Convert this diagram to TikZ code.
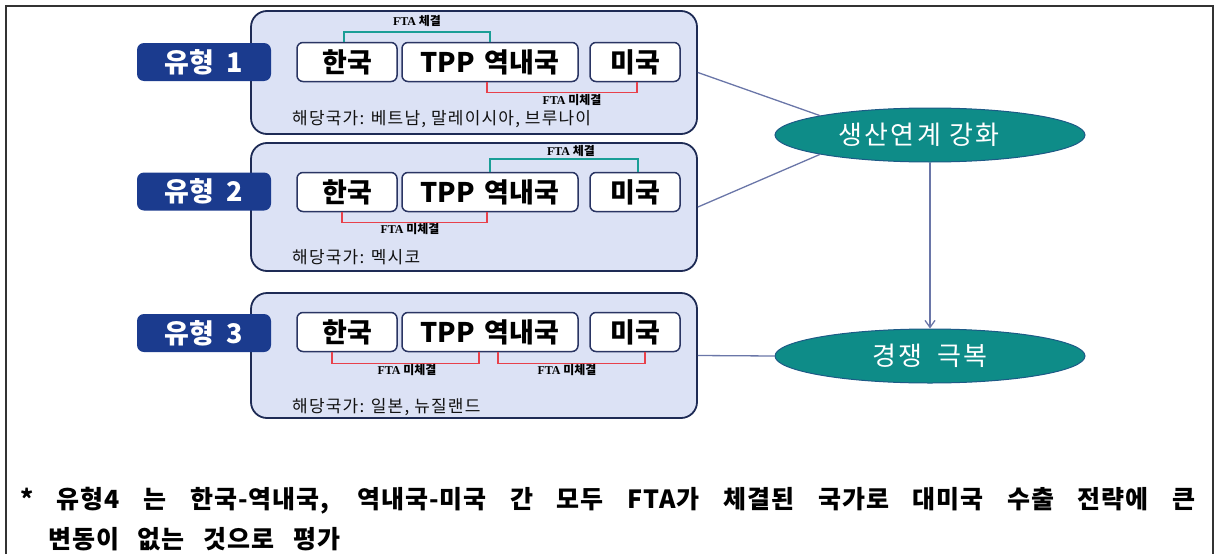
\documentclass[tikz,border=0pt]{standalone}
\usepackage{fontspec}
\setmainfont{Noto Sans CJK KR}
\newfontfamily\krls{Noto Sans CJK KR}[LetterSpace=7]
\newfontfamily\krwide{Noto Sans CJK KR}[LetterSpace=9]
\newfontfamily\krfoot{Noto Sans CJK KR}[LetterSpace=4]
\newfontfamily\lserif{Liberation Serif}
\usetikzlibrary{shapes.geometric,arrows.meta}
\definecolor{panelfill}{HTML}{DCE2F5}
\definecolor{panelborder}{HTML}{1E2B55}
\definecolor{lblblue}{HTML}{1B3B8E}
\definecolor{boxborder}{HTML}{2A3563}
\definecolor{tealline}{HTML}{1A9E96}
\definecolor{redline}{HTML}{E8414B}
\definecolor{ellfill}{HTML}{0E8C88}
\definecolor{ellborder}{HTML}{1D5A86}
\definecolor{connclr}{HTML}{6A76A8}
\definecolor{darktext}{HTML}{111111}
\definecolor{framecl}{HTML}{333333}
\tikzset{
 panel/.style={draw=panelborder, line width=1.8pt, fill=panelfill, rounded corners=16pt, minimum width=446pt, minimum height=#1, inner sep=0pt},
 typelbl/.style={fill=lblblue, rounded corners=7pt, text=white, font=\fontsize{27}{27}\selectfont\bfseries, minimum width=134pt, minimum height=38pt, inner sep=0pt},
 ctry/.style={draw=boxborder, line width=1.5pt, fill=white, rounded corners=6pt, font=\fontsize{27}{27}\selectfont\bfseries, minimum height=39pt, minimum width=#1, inner sep=0pt},
 ftalbl/.style={font=\fontsize{12}{12}\selectfont\bfseries, inner sep=0pt},
 okline/.style={draw=tealline, line width=1.5pt},
 noline/.style={draw=redline, line width=1.5pt},
 note/.style={font=\fontsize{17}{17}\selectfont\krls, anchor=west, inner sep=0pt, text=darktext},
 goal/.style={ellipse, fill=ellfill, draw=ellborder, line width=1pt, minimum width=310pt, minimum height=54pt, inner sep=0pt, text=white, font=\fontsize{26}{26}\selectfont\krwide},
 conn/.style={draw=connclr, line width=1.3pt},
 foot/.style={anchor=west, inner sep=0pt, font=\fontsize{25}{25}\selectfont\krfoot\bfseries},
}
\newcommand{\fta}[1]{{\lserif\bfseries FTA} #1}
\begin{document}
\begin{tikzpicture}[x=1pt,y=-1pt]
\useasboundingbox (0,0) rectangle (1217,554);
\draw[framecl, line width=2pt] (6,554) -- (6,6) -- (1213,6) -- (1213,554);
% panels
\node[panel=123pt] (p1) at (474,72.5) {};
\node[panel=128pt] (p2) at (474,207) {};
\node[panel=125pt] (p3) at (474,355.5) {};
% type labels
\node[typelbl] (l1) at (204,62) {유형\hspace{12pt}1};
\node[typelbl] (l2) at (204,191.5) {유형\hspace{12pt}2};
\node[typelbl] (l3) at (204,333) {유형\hspace{12pt}3};
% country boxes
\node[ctry=100pt] (k1) at (347,62) {한국};
\node[ctry=176pt] (t1) at (490,62) {TPP\hspace{10pt}역내국};
\node[ctry=90pt] (u1) at (635,62) {미국};
\node[ctry=100pt] (k2) at (347,192) {한국};
\node[ctry=176pt] (t2) at (490,192) {TPP\hspace{10pt}역내국};
\node[ctry=90pt] (u2) at (635,192) {미국};
\node[ctry=100pt] (k3) at (347,332) {한국};
\node[ctry=176pt] (t3) at (490,332) {TPP\hspace{10pt}역내국};
\node[ctry=90pt] (u3) at (635,332) {미국};
% brackets type 1
\draw[okline] ([xshift=-3pt]k1.north) -- ++(0,-10) -| (t1.north);
\node[ftalbl] (f1a) at (417,21) {\fta{체결}};
\draw[noline] ([xshift=-3pt]t1.south) -- ++(0,10) -| ([xshift=2pt]u1.south);
\node[ftalbl] (f1b) at (572,100) {\fta{미체결}};
% brackets type 2
\draw[okline] (t2.north) -- ++(0,-13) -| ([xshift=3pt]u2.north);
\node[ftalbl] (f2a) at (571,151) {\fta{체결}};
\draw[noline] ([xshift=-5pt]k2.south) -- ++(0,10) -| ([xshift=-3pt]t2.south);
\node[ftalbl] (f2b) at (410,229) {\fta{미체결}};
% brackets type 3
\draw[noline] ([xshift=-15pt]k3.south) -- ++(0,11) -| ([xshift=-11pt]t3.south);
\draw[noline] ([xshift=8pt]t3.south) -- ++(0,11) -| ([xshift=10pt]u3.south);
\node[ftalbl] (f3a) at (407,370) {\fta{미체결}};
\node[ftalbl] (f3b) at (567,370) {\fta{미체결}};
% notes
\node[note] (n1) at (292,119) {해당국가: 베트남, 말레이시아, 브루나이};
\node[note] (n2) at (292,257) {해당국가: 멕시코};
\node[note] (n3) at (292,407) {해당국가: 일본, 뉴질랜드};
% goals
\node[goal] (e1) at (930,135) {생산연계 강화\hspace*{22pt}};
\node[goal] (e2) at (930,356) {경쟁\hspace{6pt} 극복};
\draw[conn] (p1.east) -- (e1.170);
\draw[conn] (p2.east) -- (e1.190);
\draw[conn] (p3.east) -- (e2.west);
\draw[conn, -{Straight Barb[length=7pt,width=10pt]}] (e1.south) -- (e2.north);
% footnote
\node[foot] (fn1) at (20,501) {\makebox[1175pt][s]{* 유형4 는 한국-역내국, 역내국-미국 간 모두 FTA가 체결된 국가로 대미국 수출 전략에 큰}};
\node[foot] (fn2) at (48,539) {\makebox[292pt][s]{변동이 없는 것으로 평가}};
\end{tikzpicture}
\end{document}
